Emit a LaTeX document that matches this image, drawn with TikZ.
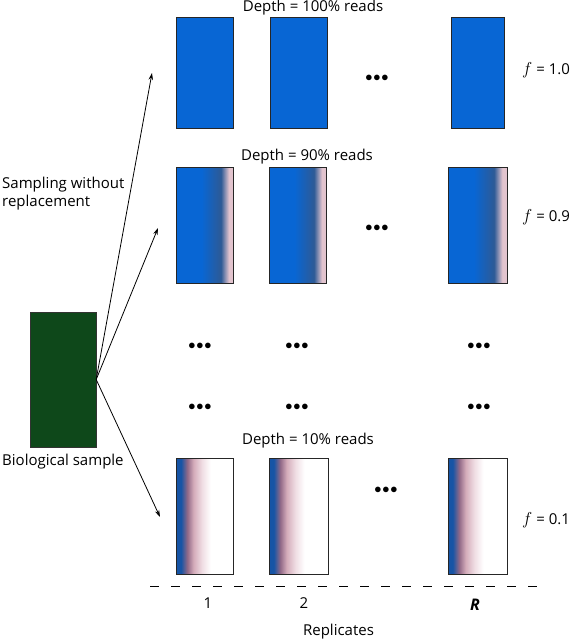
\documentclass[tikz,border=0pt]{standalone}
\usepackage{fontspec}
\setmainfont{Open Sans}
\usetikzlibrary{arrows.meta}
\definecolor{fblue}{RGB}{8,102,212}
\definecolor{fnavy}{RGB}{45,90,150}
\definecolor{fpink}{RGB}{226,196,206}
\definecolor{ldblue}{RGB}{22,84,165}
\definecolor{lmauve}{RGB}{145,105,135}
\definecolor{lpink}{RGB}{212,172,186}
\definecolor{lpale}{RGB}{240,222,228}
\definecolor{fgreen}{RGB}{14,72,26}
\pgfdeclarehorizontalshading{midshade}{100bp}{color(0bp)=(fblue); color(25bp)=(fblue); color(47bp)=(fblue); color(64bp)=(fnavy); color(71bp)=(fpink); color(100bp)=(fpink)}
\pgfdeclarehorizontalshading{lowshade}{100bp}{color(0bp)=(ldblue); color(25bp)=(ldblue); color(29bp)=(ldblue); color(34.5bp)=(lmauve); color(40bp)=(lpink); color(47.5bp)=(lpale); color(55bp)=(white); color(100bp)=(white)}
\tikzset{
  rep/.style={draw=black!85, line width=0.9pt, minimum width=57pt, minimum height=116pt, inner sep=0pt},
  fullrep/.style={rep, fill=fblue, minimum height=111pt},
  midrep/.style={rep, shade, shading=midshade},
  lowrep/.style={rep, shade, shading=lowshade},
  lbl/.style={font=\fontsize{15}{18}\selectfont, inner sep=0pt},
  dots/.style={font=\fontsize{14}{14}\selectfont, inner sep=0pt},
  samp/.style={line width=0.8pt, -{Stealth[length=7pt,width=4.5pt]}},
}
\newcommand{\fvar}{{\fontsize{17}{18}\selectfont$f$}}
\begin{document}
\begin{tikzpicture}[x=1pt,y=-1pt]
\useasboundingbox (0,0) rectangle (572,643);
% biological sample
\node[draw=black!80, fill=fgreen, minimum width=66pt, minimum height=135pt, inner sep=0pt] (bio) at (63,379.5) {};
\node[lbl, anchor=west] (biolbl) at (2,462) {Biological sample};
\node[lbl, anchor=west, align=left] (samplbl) at (2,194) {Sampling without\\replacement};
% row 1
\node[lbl] (d100) at (313,8) {Depth = 100\% reads};
\node[fullrep] (a1) at (205,72.5) {};
\node[fullrep] (a2) at (298.5,72.5) {};
\node[dots] (adots) at (377,78) {$\bullet\!\bullet\!\bullet$};
\node[fullrep, minimum width=53pt] (aR) at (477.5,72.5) {};
\node[lbl, anchor=west] (f1) at (522,70) {\fvar\ = 1.0};
% row 2
\node[lbl] (d90) at (307,157) {Depth = 90\% reads};
\node[midrep] (b1) at (205,225.5) {};
\node[midrep] (b2) at (298,225.5) {};
\node[dots] (bdots) at (377,228) {$\bullet\!\bullet\!\bullet$};
\node[midrep, minimum width=59pt] (bR) at (477.5,225.5) {};
\node[lbl, anchor=west] (f9) at (522,217) {\fvar\ = 0.9};
% middle dots
\node[dots] (m11) at (200,346) {$\bullet\!\bullet\!\bullet$};
\node[dots] (m12) at (297,346) {$\bullet\!\bullet\!\bullet$};
\node[dots] (m13) at (479,346) {$\bullet\!\bullet\!\bullet$};
\node[dots] (m21) at (200,407) {$\bullet\!\bullet\!\bullet$};
\node[dots] (m22) at (297,407) {$\bullet\!\bullet\!\bullet$};
\node[dots] (m23) at (479,407) {$\bullet\!\bullet\!\bullet$};
% row 3
\node[lbl] (d10) at (308,441) {Depth = 10\% reads};
\node[lowrep] (c1) at (205,516.5) {};
\node[lowrep, minimum width=59pt] (c2) at (298.5,516.5) {};
\node[dots] (cdots) at (386,490) {$\bullet\!\bullet\!\bullet$};
\node[lowrep, minimum width=59pt] (cR) at (477.5,516.5) {};
\node[lbl, anchor=west] (f01) at (522,520) {\fvar\ = 0.1};
% arrows
\coordinate (t1) at (152,73);
\coordinate (t2) at (158,228);
\coordinate (t3) at (160,517);
\draw[samp] (bio.east) -- (t1);
\draw[samp] (bio.east) -- (t2);
\draw[samp] (bio.east) -- (t3);
% axis
\coordinate (ax1) at (150,586);
\coordinate (ax2) at (538,586);
\draw[line width=0.9pt, dash pattern=on 9pt off 12pt] (ax1) -- (ax2);
\node[lbl] (n1) at (208,603) {1};
\node[lbl] (n2) at (304,603) {2};
\node[lbl, font=\fontsize{16}{18}\selectfont\bfseries\itshape] (nR) at (475,605) {R};
\node[lbl] (reps) at (338.5,632) {Replicates};
\end{tikzpicture}
\end{document}
